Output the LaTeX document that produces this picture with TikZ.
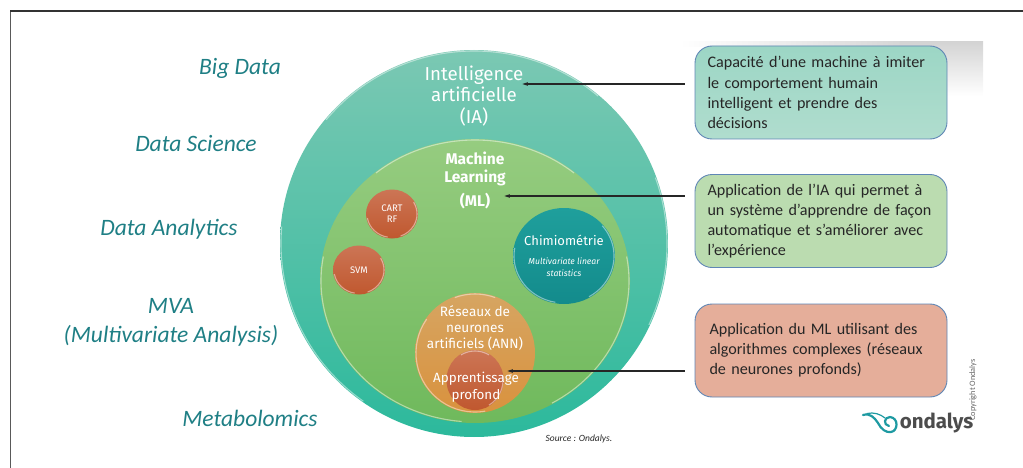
\documentclass[tikz,border=0pt]{standalone}
\usepackage{fontspec}
\setmainfont{Carlito}
\newfontfamily\dinfont{Fira Sans}
\usetikzlibrary{arrows.meta}
\usetikzlibrary{shapes.geometric}
\definecolor{labelteal}{HTML}{1F7F85}
\definecolor{boxedge}{HTML}{5F86B5}
\definecolor{logoteal}{HTML}{1E9AA2}
\definecolor{tealtop}{HTML}{7BC8B3}
\definecolor{tealmid}{HTML}{64C3AC}
\definecolor{tealbot}{HTML}{2CB99C}
\definecolor{greentop}{HTML}{96CC80}
\definecolor{greenmid}{HTML}{82C675}
\definecolor{greenbot}{HTML}{6FB95C}
\definecolor{chemtop}{HTML}{1F9F9C}
\definecolor{chembot}{HTML}{138B8C}
\definecolor{redtop}{HTML}{CC7555}
\definecolor{redbot}{HTML}{C0582F}
\definecolor{anntop}{HTML}{D6A562}
\definecolor{annbot}{HTML}{D9923E}
\definecolor{iaboxtop}{HTML}{9CD6C5}
\definecolor{iaboxbot}{HTML}{B0DDCE}
\definecolor{mlfill}{HTML}{BBDCB0}
\definecolor{dlfill}{HTML}{E5AE9A}
\tikzset{>={Stealth[inset=0pt,angle=30:6pt]}}
\tikzset{
    bubble/.style={ellipse,inner sep=0pt,text=white},
    rim/.style={line width=1.1pt,white,opacity=0.45},
    field/.style={font=\fontsize{23.5}{29}\selectfont\itshape,text=labelteal,align=center},
    inside/.style={font=\dinfont,text=white,align=center,inner sep=0pt},
    infobox/.style={draw=boxedge,line width=0.9pt,rounded corners=17pt,minimum width=252pt,
        minimum height=93pt,inner xsep=12.5pt,text width=227pt,align=left,text=black!85,
        font=\fontsize{16.1}{20.2}\selectfont},
    pointer/.style={->,line width=1.2pt,black!85,shorten <=10pt}
}
\begin{document}
\begin{tikzpicture}[x=1pt,y=-1pt]
    \useasboundingbox (0,0) rectangle (1023,468);
    % frame of the slide
    \draw[line width=1.2pt,black!65] (10.5,468)--(10.5,11);
    \draw[line width=1.2pt,black!80] (10,11)--(1023,11);
    % grey behind the first box
    \fill[left color=white,right color=black!16] (680,42) rectangle (900,47);
    \fill[top color=black!17,bottom color=white] (900,42) rectangle (983,96);
    % the nested circles
    \node[bubble,top color=tealtop,middle color=tealmid,bottom color=tealbot,minimum width=388pt,minimum height=387pt] (ia) at (474,243.5) {};
    \node[bubble,top color=greentop,middle color=greenmid,bottom color=greenbot,minimum width=310pt,minimum height=284pt] (ml) at (475,281) {};
    \node[bubble,top color=chemtop,bottom color=chembot,minimum width=102pt,minimum height=96pt] (chem) at (564,256) {};
    \node[bubble,top color=redtop,bottom color=redbot,minimum width=52pt,minimum height=49pt,
        font=\dinfont\fontsize{9.5}{11}\selectfont,align=center] (cart) at (392,214) {CART\\RF};
    \node[bubble,top color=redtop,bottom color=redbot,minimum width=52pt,minimum height=49pt,
        font=\dinfont\fontsize{9.5}{11}\selectfont] (svm) at (359,270) {SVM};
    \node[bubble,top color=anntop,bottom color=annbot,minimum width=120pt,minimum height=120pt] (ann) at (475,353) {};
    \node[bubble,top color=redtop,bottom color=redbot,minimum width=57pt,minimum height=60pt] (deep) at (475,380) {};
    \foreach \cx/\cy/\rx/\ry/\a/\b in {
        474/243.5/193/192.5/-140/-50,474/243.5/193/192.5/-20/25,474/243.5/193/192.5/125/185,
        475/281/154/141/-130/-50,475/281/154/141/95/190,475/281/154/141/-10/60,
        564/256/50/47/-40/60,564/256/50/47/100/190,
        392/214/25/23.5/-30/70,392/214/25/23.5/100/170,
        359/270/25/23.5/-30/70,359/270/25/23.5/100/170,
        475/353/59/59/80/215,475/353/59/59/-110/-70,
        475/380/28/29/-120/-60,475/380/28/29/-10/60}
    {\draw[rim] ({\cx+\rx*cos(\a)},{\cy+\ry*sin(\a)}) arc[start angle=\a,end angle=\b,x radius=\rx,y radius=\ry];}
    % texts in the circles
    \node[inside,font=\dinfont\fontsize{18.7}{21.5}\selectfont] (iatext) at (474,96) {Intelligence\\artificielle\\(IA)};
    \node[inside,font=\dinfont\bfseries\fontsize{15.5}{18}\selectfont] (mltext) at (475,180) {Machine\\Learning\\[6pt](ML)};
    \node[inside,font=\dinfont\fontsize{13}{15}\selectfont] (chemtext) at (564,240) {Chimiométrie};
    \node[inside,font=\dinfont\itshape\fontsize{8.6}{12}\selectfont] (chemsub) at (564,267) {Multivariate linear\\statistics};
    \node[inside,font=\dinfont\fontsize{13.6}{16}\selectfont] (anntext) at (475,328) {Réseaux de\\neurones\\artificiels (ANN)};
    \node[inside,font=\dinfont\fontsize{13.4}{17}\selectfont] (deeptext) at (476,387) {Apprentissage\\profond};
    % fields on the left
    \node[field] (bigdata) at (240,68) {Big Data};
    \node[field] (datascience) at (196,144) {Data Science};
    \node[field] (analytics) at (169,229.5) {Data Analytics};
    \node[field] (mva) at (171,322.5) {MVA\\(Multivariate Analysis)};
    \node[field] (metabo) at (250,418) {Metabolomics};
    % definitions on the right
    \node[infobox,top color=iaboxtop,bottom color=iaboxbot] (iabox) at (821,92.5)
        {Capacité d’une machine à imiter\\le comportement humain\\intelligent et prendre des\\décisions};
    \node[infobox,fill=mlfill] (mlbox) at (821,221)
        {Application de l’IA qui permet à\\un système d’apprendre de façon\\automatique et s’améliorer avec\\l’expérience};
    \node[infobox,fill=dlfill,inner xsep=14.5pt,text width=223pt] (dlbox) at (821,350.5)
        {Application du ML utilisant des\\algorithmes complexes (réseaux\\de neurones profonds)};
    \coordinate (iatip) at (522,84);
    \coordinate (mltip) at (504,196);
    \coordinate (dltip) at (507,371);
    \draw[pointer] (iabox.west |- iatip)--(iatip);
    \draw[pointer] (mlbox.west |- mltip)--(mltip);
    \draw[pointer] (dlbox.west |- dltip)--(dltip);
    % source and logo
    \node[font=\fontsize{9.5}{10}\selectfont\itshape,text=black!85,inner sep=0pt] (source) at (579,439) {Source : Ondalys.};
    \node[font=\dinfont\bfseries\fontsize{20.5}{22}\selectfont,text=black!70,inner sep=0pt] (ondalys) at (936.5,423) {ondalys};
    \node[rotate=90,font=\fontsize{8.3}{8}\selectfont,text=black!60,inner sep=0pt] (copyright) at (973,390) {Copyright Ondalys};
    \draw[logoteal,line width=2.2pt,line cap=round] (863,415) .. controls (870,413) and (874,417) .. (878,423)
        .. controls (881,429) and (886,433) .. (891,432) .. controls (898,431) and (899,418) .. (890,417)
        .. controls (884,417) and (883,425) .. (889,426);
    \draw[logoteal,line width=1.2pt,line cap=round] (867,413.5) .. controls (874,412) and (880,414) .. (885,418);
\end{tikzpicture}
\end{document}
